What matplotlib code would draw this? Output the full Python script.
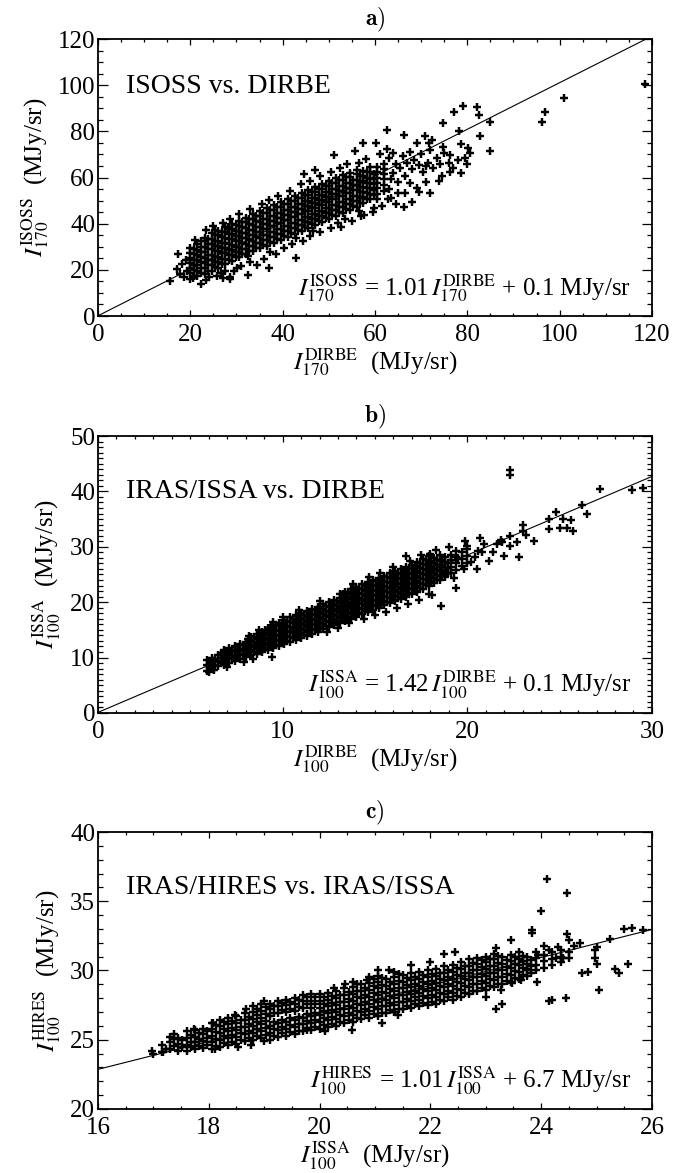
import matplotlib
matplotlib.use('Agg')
import matplotlib.pyplot as plt
from matplotlib.ticker import MultipleLocator

plt.rcParams['font.family'] = 'Liberation Serif'
plt.rcParams['mathtext.fontset'] = 'stix'

# ---- panel a: ISOSS vs DIRBE (170 um) ----
# dense core, read as columns: (x, [y, ...])
a_cols = [
    (19.9, [16.0, 18.5, 20.8, 23.0, 25.2, 27.4, 29.4]),
    (20.7, [17.5, 19.8, 22.1, 24.4, 26.7, 29.0]),
    (21.5, [17.4, 19.7, 22.0, 24.3, 26.5, 28.8, 31.0]),
    (22.3, [18.6, 20.9, 23.2, 25.5, 27.8, 30.1, 32.4]),
    (23.1, [18.2, 20.6, 23.0, 25.3, 27.6, 29.9, 32.3, 34.0]),
    (23.8, [19.7, 22.0, 24.3, 26.6, 28.9, 31.2, 33.5]),
    (24.6, [19.5, 21.9, 24.2, 26.6, 28.9, 31.2, 33.5, 35.8]),
    (25.3, [21.1, 23.4, 25.7, 28.0, 30.3, 32.6, 34.9]),
    (26.1, [21.0, 23.4, 25.7, 28.0, 30.3, 32.6, 34.9, 37.0]),
    (26.8, [22.6, 24.9, 27.2, 29.5, 31.8, 34.1, 36.4]),
    (27.6, [22.5, 24.8, 27.1, 29.4, 31.7, 34.0, 36.3, 38.4]),
    (28.3, [24.1, 26.4, 28.7, 31.0, 33.3, 35.6, 37.9]),
    (29.1, [24.0, 26.3, 28.6, 30.9, 33.2, 35.5, 37.8, 40.0]),
    (29.8, [25.5, 27.8, 30.1, 32.4, 34.7, 37.0, 39.3]),
    (30.6, [25.4, 27.7, 30.0, 32.3, 34.6, 36.9, 39.2, 41.3]),
    (31.3, [26.9, 29.2, 31.5, 33.8, 36.1, 38.4, 40.7]),
    (32.1, [26.8, 29.1, 31.4, 33.7, 36.0, 38.3, 40.6, 42.6]),
    (32.8, [28.2, 30.5, 32.8, 35.1, 37.4, 39.7, 42.0]),
    (33.6, [28.0, 30.4, 32.7, 35.0, 37.3, 39.6, 41.9, 44.0]),
    (34.3, [29.5, 31.8, 34.1, 36.4, 38.7, 41.0, 43.3]),
    (35.1, [29.3, 31.7, 34.0, 36.3, 38.6, 40.9, 43.2, 45.4]),
    (35.8, [30.7, 33.0, 35.3, 37.6, 39.9, 42.2, 44.5]),
    (36.6, [30.5, 33.0, 35.3, 37.6, 39.9, 42.2, 44.5, 46.6]),
    (37.3, [32.0, 34.3, 36.6, 38.9, 41.2, 43.5, 45.8]),
    (38.1, [31.8, 34.3, 36.6, 38.9, 41.2, 43.5, 45.8, 48.0]),
    (38.8, [33.3, 35.6, 37.9, 40.2, 42.5, 44.8, 47.1]),
    (39.6, [33.1, 35.6, 37.9, 40.2, 42.5, 44.8, 47.1, 49.2]),
    (40.3, [34.6, 36.9, 39.2, 41.5, 43.8, 46.1, 48.4]),
    (41.1, [34.4, 36.9, 39.2, 41.5, 43.8, 46.1, 48.4, 50.6]),
    (41.8, [35.9, 38.2, 40.5, 42.8, 45.1, 47.4, 49.7]),
    (42.6, [35.7, 38.2, 40.5, 42.8, 45.1, 47.4, 49.7, 51.8]),
    (43.3, [37.2, 39.5, 41.8, 44.1, 46.4, 48.7, 51.0]),
    (44.1, [37.0, 39.5, 41.8, 44.1, 46.4, 48.7, 51.0, 53.2]),
    (44.8, [38.5, 40.8, 43.1, 45.4, 47.7, 50.0, 52.3]),
    (45.6, [38.3, 40.8, 43.1, 45.4, 47.7, 50.0, 52.3, 54.4]),
    (46.3, [39.8, 42.1, 44.4, 46.7, 49.0, 51.3, 53.6]),
    (47.1, [39.6, 42.1, 44.4, 46.7, 49.0, 51.3, 53.6, 55.8]),
    (47.8, [41.1, 43.4, 45.7, 48.0, 50.3, 52.6, 54.9]),
    (48.6, [40.9, 43.4, 45.7, 48.0, 50.3, 52.6, 54.9, 57.0]),
    (49.3, [42.4, 44.7, 47.0, 49.3, 51.6, 53.9, 56.2]),
    (50.1, [42.2, 44.7, 47.0, 49.3, 51.6, 53.9, 56.2, 58.4]),
    (50.8, [43.7, 46.0, 48.3, 50.6, 52.9, 55.2, 57.5]),
    (51.6, [43.5, 46.0, 48.3, 50.6, 52.9, 55.2, 57.5, 59.6]),
    (52.3, [45.0, 47.3, 49.6, 51.9, 54.2, 56.5, 58.8]),
    (53.1, [44.8, 47.3, 49.6, 51.9, 54.2, 56.5, 58.8, 61.0]),
    (53.8, [46.3, 48.6, 50.9, 53.2, 55.5, 57.8, 60.1]),
    (54.6, [46.1, 48.6, 50.9, 53.2, 55.5, 57.8, 60.1, 62.0]),
    (55.3, [47.6, 49.9, 52.2, 54.5, 56.8, 59.1]),
    (56.1, [47.4, 49.9, 52.2, 54.5, 56.8, 59.1, 61.4, 63.2]),
    (56.8, [49.0, 51.3, 53.6, 55.9, 58.2, 60.5]),
    (57.5, [49.0, 51.5, 53.8, 56.1, 58.4, 60.7, 63.0]),
    (58.3, [50.8, 53.1, 55.4, 57.7, 60.0, 62.3]),
    (59.0, [50.5, 53.0, 55.3, 57.6, 59.9, 62.2, 64.5]),
    (59.8, [52.5, 54.8, 57.1, 59.4, 61.7]),
    (60.5, [52.8, 55.3, 57.6, 59.9, 62.2, 64.5]),
    (62.0, [54.0, 56.8, 59.2, 61.5, 63.8, 66.0]),
]
# scattered points around the core
a_pts = [
    (118.6, 100.6), (101.0, 94.3), (96.9, 88.2), (96.2, 84.1), (84.9, 84.0), (84.9, 71.7),
    (82.8, 78.0), (82.0, 90.5), (82.5, 86.9), (79.1, 90.8), (77.2, 88.6), (74.8, 83.6),
    (78.2, 80.0), (78.7, 74.6), (80.6, 70.6), (80.1, 72.7), (78.7, 61.9), (76.3, 69.8),
    (74.8, 73.4), (72.4, 76.3), (70.8, 77.8), (71.6, 74.9), (66.2, 78.5), (62.6, 80.4),
    (69.0, 74.9), (66.6, 53.2), (68.0, 49.6), (66.3, 47.4), (69.5, 53.9), (71.9, 53.2),
    (73.8, 58.3), (76.3, 62.6), (71.0, 64.8), (57.5, 74.9), (60.2, 74.9), (55.6, 71.3),
    (51.1, 69.7), (63.8, 70.6), (60.4, 50.6), (59.9, 46.7), (62.8, 50.6), (57.7, 43.8),
    (52.7, 38.7), (42.9, 25.0), (32.5, 17.8), (37.0, 20.7), (28.7, 17.0), (28.7, 15.9),
    (22.4, 13.9), (15.7, 15.2), (17.4, 26.9), (25.3, 37.3), (28.2, 38.7), (20.5, 16.3),
    (17.2, 20.5), (17.8, 18.2), (18.3, 22.4), (18.6, 16.8), (19.0, 24.1), (19.3, 19.6),
    (23.5, 15.5), (25.8, 17.2), (27.0, 16.4), (29.5, 19.3), (31.0, 21.8), (33.0, 23.5),
    (34.5, 22.2), (36.0, 24.6), (38.6, 27.0), (40.2, 29.5), (42.0, 31.0), (44.5, 32.5),
    (46.0, 34.8), (48.0, 36.2), (50.5, 38.0), (52.0, 40.5), (55.0, 41.0), (57.0, 43.5),
    (59.5, 45.2), (61.5, 47.8), (63.5, 51.0), (64.5, 48.5), (65.0, 53.5), (63.0, 55.0),
    (27.6, 19.6), (30.2, 21.0), (24.0, 17.0), (26.6, 18.8), (32.5, 26.0), (37.2, 27.8),
    (42.8, 33.8), (46.6, 37.0), (53.6, 42.0), (56.5, 45.5),
    (21.0, 33.0), (23.5, 37.4), (25.0, 38.9), (27.0, 40.5), (28.5, 42.2), (30.5, 44.0),
    (33.0, 46.5), (35.5, 48.5), (37.0, 50.2), (39.0, 52.0), (41.5, 54.0), (44.0, 57.0),
    (46.0, 58.5), (48.0, 60.5), (50.5, 62.5), (52.5, 64.0), (54.0, 66.0), (56.5, 66.5),
    (58.0, 68.0), (44.7, 61.5), (47.0, 63.2),
    (63.0, 68.5), (64.0, 62.0), (64.5, 66.0), (65.5, 64.0), (66.0, 69.5), (66.5, 60.5),
    (67.0, 66.5), (67.5, 71.0), (68.0, 63.5), (68.5, 67.8), (69.5, 65.5), (70.0, 70.0),
    (70.5, 62.5), (71.5, 66.5), (72.0, 72.0), (72.5, 64.0), (73.5, 68.5), (74.0, 66.0),
    (75.0, 70.5), (76.0, 66.5), (77.0, 64.0), (78.0, 67.5), (79.5, 68.5), (80.0, 66.0),
    (65.0, 58.0), (63.5, 59.5), (67.5, 57.5), (69.0, 55.5), (71.0, 58.0), (74.5, 60.5),
    (61.0, 70.0), (62.5, 72.5),
]
a_fit = (1.01, 0.1)

# ---- panel b: IRAS/ISSA vs DIRBE (100 um) ----
b_cols = [
    (5.9, [7.6, 8.6, 9.6]),
    (6.05, [8.3, 9.3]),
    (6.2, [8.0, 9.0, 10.0]),
    (6.35, [8.7, 9.7]),
    (6.5, [8.4, 9.4, 10.4]),
    (6.65, [9.05, 10.0, 10.9]),
    (6.8, [8.7, 9.6, 10.5, 11.3]),
    (6.95, [9.35, 10.25, 11.15]),
    (7.1, [9.0, 9.9, 10.8, 11.7]),
    (7.25, [9.65, 10.55, 11.45]),
    (7.4, [9.4, 10.3, 11.2, 12.1]),
    (7.55, [10.05, 10.95, 11.85]),
    (7.7, [9.8, 10.7, 11.6, 12.5]),
    (7.85, [10.45, 11.35, 12.25]),
    (8.0, [10.1, 11.0, 11.9, 12.8]),
    (8.15, [10.75, 11.65, 12.55, 13.3]),
    (8.3, [10.4, 11.3, 12.2, 13.1, 13.8]),
    (8.45, [11.05, 11.95, 12.85, 13.75]),
    (8.6, [10.7, 11.6, 12.5, 13.4, 14.3]),
    (8.75, [11.35, 12.25, 13.15, 14.05]),
    (8.9, [11.0, 11.9, 12.8, 13.7, 14.6]),
    (9.05, [11.65, 12.55, 13.45, 14.35, 15.0]),
    (9.2, [11.4, 12.3, 13.2, 14.1, 15.0, 15.4]),
    (9.35, [12.05, 12.95, 13.85, 14.75, 15.6]),
    (9.5, [11.7, 12.6, 13.5, 14.4, 15.3, 15.9]),
    (9.65, [12.35, 13.25, 14.15, 15.05, 15.9]),
    (9.8, [12.1, 13.0, 13.9, 14.8, 15.7, 16.3]),
    (9.95, [12.75, 13.65, 14.55, 15.45, 16.3]),
    (10.1, [12.4, 13.3, 14.2, 15.1, 16.0, 16.8]),
    (10.25, [13.05, 13.95, 14.85, 15.75, 16.65]),
    (10.4, [12.8, 13.7, 14.6, 15.5, 16.4, 17.3]),
    (10.55, [13.45, 14.35, 15.25, 16.15, 17.05]),
    (10.7, [13.2, 14.1, 15.0, 15.9, 16.8, 17.7]),
    (10.85, [13.85, 14.75, 15.65, 16.55, 17.45]),
    (11.0, [13.5, 14.4, 15.3, 16.2, 17.1, 18.0]),
    (11.15, [14.15, 15.05, 15.95, 16.85, 17.75]),
    (11.3, [13.9, 14.8, 15.7, 16.6, 17.5, 18.4]),
    (11.45, [14.55, 15.45, 16.35, 17.25, 18.15]),
    (11.6, [14.3, 15.2, 16.1, 17.0, 17.9, 18.8]),
    (11.75, [14.95, 15.85, 16.75, 17.65, 18.55]),
    (11.9, [14.7, 15.6, 16.5, 17.4, 18.3, 19.2]),
    (12.05, [15.35, 16.25, 17.15, 18.05, 18.95]),
    (12.2, [15.1, 16.0, 16.9, 17.8, 18.7, 19.6]),
    (12.35, [15.75, 16.65, 17.55, 18.45, 19.35]),
    (12.5, [15.5, 16.4, 17.3, 18.2, 19.1, 20.0]),
    (12.65, [16.15, 17.05, 17.95, 18.85, 19.75]),
    (12.8, [15.9, 16.8, 17.7, 18.6, 19.5, 20.4]),
    (12.95, [16.55, 17.45, 18.35, 19.25, 20.15]),
    (13.1, [16.3, 17.2, 18.1, 19.0, 19.9, 20.8, 21.5]),
    (13.25, [16.95, 17.85, 18.75, 19.65, 20.55, 21.45]),
    (13.4, [16.6, 17.5, 18.4, 19.3, 20.2, 21.1, 21.9]),
    (13.55, [17.25, 18.15, 19.05, 19.95, 20.85, 21.75]),
    (13.7, [17.0, 17.9, 18.8, 19.7, 20.6, 21.5, 22.4]),
    (13.85, [17.65, 18.55, 19.45, 20.35, 21.25, 22.15]),
    (14.0, [17.4, 18.3, 19.2, 20.1, 21.0, 21.9, 22.8]),
    (14.15, [18.05, 18.95, 19.85, 20.75, 21.65, 22.55]),
    (14.3, [17.8, 18.7, 19.6, 20.5, 21.4, 22.3, 23.2]),
    (14.45, [18.45, 19.35, 20.25, 21.15, 22.05, 22.95]),
    (14.6, [18.2, 19.1, 20.0, 20.9, 21.8, 22.7, 23.6]),
    (14.75, [18.85, 19.75, 20.65, 21.55, 22.45, 23.35]),
    (14.9, [18.6, 19.5, 20.4, 21.3, 22.2, 23.1, 24.0]),
    (15.05, [19.25, 20.15, 21.05, 21.95, 22.85, 23.75]),
    (15.2, [19.0, 19.9, 20.8, 21.7, 22.6, 23.5, 24.4]),
    (15.35, [19.65, 20.55, 21.45, 22.35, 23.25, 24.15]),
    (15.5, [19.4, 20.3, 21.2, 22.1, 23.0, 23.9, 24.8]),
    (15.65, [20.05, 20.95, 21.85, 22.75, 23.65, 24.55]),
    (15.8, [19.8, 20.7, 21.6, 22.5, 23.4, 24.3, 25.2]),
    (15.95, [20.45, 21.35, 22.25, 23.15, 24.05, 24.95]),
    (16.1, [20.2, 21.1, 22.0, 22.9, 23.8, 24.7, 25.6]),
    (16.25, [20.85, 21.75, 22.65, 23.55, 24.45, 25.35]),
    (16.4, [20.6, 21.5, 22.4, 23.3, 24.2, 25.1, 26.0]),
    (16.55, [21.25, 22.15, 23.05, 23.95, 24.85, 25.75]),
    (16.7, [21.0, 21.9, 22.8, 23.7, 24.6, 25.5, 26.4]),
    (16.85, [21.65, 22.55, 23.45, 24.35, 25.25, 26.15]),
    (17.0, [21.4, 22.3, 23.2, 24.1, 25.0, 25.9, 26.8]),
    (17.15, [22.05, 22.95, 23.85, 24.75, 25.65, 26.55]),
    (17.3, [21.9, 22.8, 23.7, 24.6, 25.5, 26.4, 27.3]),
    (17.45, [22.55, 23.45, 24.35, 25.25, 26.15, 27.05]),
    (17.6, [22.4, 23.3, 24.2, 25.1, 26.0, 26.9, 27.8]),
    (17.75, [23.05, 23.95, 24.85, 25.75, 26.65, 27.55]),
    (17.9, [22.9, 23.8, 24.7, 25.6, 26.5, 27.4, 28.3]),
    (18.05, [23.55, 24.45, 25.35, 26.25, 27.15]),
    (18.2, [23.4, 24.3, 25.2, 26.1, 27.0, 27.9]),
    (18.35, [24.05, 24.95, 25.85, 26.75, 27.65]),
    (18.5, [24.0, 24.9, 25.8, 26.7, 27.6, 28.5]),
    (18.65, [24.65, 25.55, 26.45, 27.35]),
    (18.8, [24.6, 25.5, 26.4, 27.3, 28.2]),
    (18.95, [25.25, 26.15, 27.05]),
    (19.1, [25.2, 26.4, 27.6, 28.6]),
    (19.4, [25.8, 27.0, 28.2, 29.2]),
    (19.7, [26.5, 27.8, 29.0]),
    (20.0, [27.0, 28.4, 29.6]),
]
b_pts = [
    (6.0, 7.4), (6.3, 7.7), (7.1, 11.2), (7.6, 11.3), (7.0, 8.3), (7.9, 9.2), (8.4, 9.8),
    (9.4, 10.1), (9.5, 16.4), (8.2, 13.9), (8.7, 14.9), (10.0, 17.4), (10.9, 18.6),
    (12.0, 20.3), (12.4, 14.6), (13.0, 15.4), (13.6, 16.2), (14.4, 16.9), (15.0, 17.6),
    (15.6, 18.3), (16.2, 19.0), (16.8, 19.7), (17.4, 20.4), (17.9, 21.5), (18.1, 21.3),
    (18.6, 19.3), (19.4, 22.6), (13.8, 23.3), (14.7, 24.5), (15.3, 25.3), (16.0, 26.4),
    (16.7, 28.4), (16.9, 27.5), (18.0, 28.7), (19.0, 29.9), (19.9, 31.1), (20.0, 30.2),
    (20.9, 30.5), (21.6, 30.5), (22.0, 28.4), (20.5, 26.0), (21.2, 27.5), (20.4, 28.1),
    (20.6, 29.2), (21.4, 29.0), (21.9, 30.9), (22.3, 30.2), (22.7, 30.9), (22.8, 28.2),
    (23.0, 32.9), (23.0, 34.0), (23.2, 32.2), (22.3, 32.0), (23.6, 31.0), (24.4, 33.3),
    (25.0, 33.4), (25.4, 33.4), (25.7, 32.8), (24.4, 35.1), (24.8, 36.2), (25.2, 35.0),
    (25.6, 34.8), (26.2, 37.5), (26.5, 35.9), (27.2, 40.5), (28.9, 40.3), (29.5, 40.7),
    (22.3, 43.8), (22.3, 42.9), (19.5, 28.0), (20.2, 27.2), (19.8, 26.0), (18.9, 25.2),
    (19.3, 24.4), (20.8, 29.0), (21.8, 31.2), (18.3, 29.5), (17.5, 28.6), (20.7, 31.6),
]
b_fit = (1.42, 0.1)

# ---- panel c: IRAS/HIRES vs IRAS/ISSA (100 um) ----
c_cols = [
    (17.00, [24.0]),
    (17.15, [24.1, 24.6]),
    (17.225, [24.35]),
    (17.30, [24.3, 24.8, 25.2]),
    (17.375, [24.55, 25.05]),
    (17.45, [24.2, 24.7, 25.1]),
    (17.525, [24.45, 24.95]),
    (17.60, [24.2, 24.6, 25.1, 25.6]),
    (17.675, [24.45, 24.85, 25.35]),
    (17.75, [24.3, 24.8, 25.2, 25.7]),
    (17.825, [24.55, 25.05, 25.45]),
    (17.90, [24.4, 24.9, 25.4, 25.8]),
    (17.975, [24.65, 25.15, 25.65]),
    (18.05, [24.3, 24.8, 25.3, 25.8, 26.2]),
    (18.125, [24.55, 25.05, 25.55, 26.05]),
    (18.20, [24.5, 25.0, 25.5, 26.0, 26.4]),
    (18.275, [24.75, 25.25, 25.75, 26.25]),
    (18.35, [24.6, 25.1, 25.6, 26.1, 26.6]),
    (18.425, [24.85, 25.35, 25.85, 26.35]),
    (18.50, [24.7, 25.2, 25.7, 26.2, 26.7]),
    (18.575, [24.95, 25.45, 25.95, 26.45]),
    (18.65, [24.9, 25.4, 25.9, 26.4, 26.9]),
    (18.725, [25.15, 25.65, 26.15, 26.65]),
    (18.80, [25.0, 25.5, 26.0, 26.5, 27.0, 27.4]),
    (18.875, [25.25, 25.75, 26.25, 26.75, 27.25]),
    (18.95, [25.1, 25.6, 26.1, 26.6, 27.1, 27.6]),
    (19.025, [25.35, 25.85, 26.35, 26.85, 27.35]),
    (19.10, [25.0, 25.5, 26.0, 26.7, 27.2, 27.6]),
    (19.175, [25.25, 25.75, 26.25, 26.95, 27.45]),
    (19.25, [25.2, 25.7, 26.2, 26.9, 27.4, 27.8]),
    (19.325, [25.45, 25.95, 26.45, 27.15, 27.65]),
    (19.40, [25.3, 25.8, 26.3, 27.0, 27.5, 27.9]),
    (19.475, [25.55, 26.05, 26.55, 27.25, 27.75]),
    (19.55, [25.4, 25.9, 26.4, 27.1, 27.6, 28.0]),
    (19.625, [25.65, 26.15, 26.65, 27.35, 27.85]),
    (19.70, [25.6, 26.1, 26.6, 27.3, 27.8, 28.2]),
    (19.775, [25.85, 26.35, 26.85, 27.55, 28.05]),
    (19.85, [25.7, 26.2, 26.7, 27.3, 27.8, 28.3]),
    (19.925, [25.95, 26.45, 26.95, 27.55, 28.05]),
    (20.00, [25.8, 26.3, 26.8, 27.3, 27.8, 28.3]),
    (20.075, [26.05, 26.55, 27.05, 27.55, 28.05]),
    (20.15, [25.9, 26.4, 26.9, 27.4, 27.9, 28.4]),
    (20.225, [26.15, 26.65, 27.15, 27.65, 28.15]),
    (20.30, [26.0, 26.5, 27.0, 27.5, 28.0, 28.5]),
    (20.375, [26.25, 26.75, 27.25, 27.75, 28.25]),
    (20.45, [26.2, 26.7, 27.2, 27.7, 28.2, 28.7]),
    (20.525, [26.45, 26.95, 27.45, 27.95, 28.45]),
    (20.60, [26.3, 26.8, 27.3, 27.8, 28.3, 28.8, 29.2]),
    (20.675, [26.55, 27.05, 27.55, 28.05, 28.55, 29.05]),
    (20.75, [26.5, 27.0, 27.5, 28.0, 28.5, 29.0]),
    (20.825, [26.75, 27.25, 27.75, 28.25, 28.75]),
    (20.90, [26.6, 27.1, 27.6, 28.1, 28.6, 29.1, 29.5]),
    (20.975, [26.85, 27.35, 27.85, 28.35, 28.85, 29.35]),
    (21.05, [26.7, 27.2, 27.7, 28.2, 28.7, 29.2, 29.6]),
    (21.125, [26.95, 27.45, 27.95, 28.45, 28.95, 29.45]),
    (21.20, [26.9, 27.4, 27.9, 28.4, 28.9, 29.4]),
    (21.275, [27.15, 27.65, 28.15, 28.65, 29.15]),
    (21.35, [27.0, 27.5, 28.0, 28.5, 29.0, 29.5, 29.9]),
    (21.425, [27.25, 27.75, 28.25, 28.75, 29.25, 29.75]),
    (21.50, [27.2, 27.7, 28.2, 28.7, 29.2, 29.7]),
    (21.575, [27.45, 27.95, 28.45, 28.95, 29.45]),
    (21.65, [27.3, 27.8, 28.3, 28.8, 29.3, 29.8]),
    (21.725, [27.55, 28.05, 28.55, 29.05, 29.55]),
    (21.80, [27.4, 27.9, 28.4, 28.9, 29.4, 29.9]),
    (21.875, [27.65, 28.15, 28.65, 29.15, 29.65]),
    (21.95, [27.5, 28.0, 28.5, 29.0, 29.5, 30.0]),
    (22.025, [27.75, 28.25, 28.75, 29.25, 29.75]),
    (22.10, [27.6, 28.1, 28.6, 29.1, 29.6, 30.1]),
    (22.175, [27.85, 28.35, 28.85, 29.35, 29.85]),
    (22.25, [27.8, 28.3, 28.8, 29.3, 29.8, 30.3]),
    (22.325, [28.05, 28.55, 29.05, 29.55, 30.05]),
    (22.40, [27.9, 28.4, 28.9, 29.4, 29.9, 30.4]),
    (22.475, [28.15, 28.65, 29.15, 29.65, 30.15]),
    (22.55, [28.1, 28.6, 29.1, 29.6, 30.1, 30.6]),
    (22.625, [28.35, 28.85, 29.35, 29.85, 30.35]),
    (22.70, [28.3, 28.8, 29.3, 29.8, 30.3, 30.8]),
    (22.775, [28.55, 29.05, 29.55, 30.05, 30.55]),
    (22.85, [28.5, 29.0, 29.5, 30.0, 30.5, 30.9]),
    (22.925, [28.75, 29.25, 29.75, 30.25, 30.75]),
    (23.00, [28.6, 29.1, 29.6, 30.1, 30.6, 31.0]),
    (23.075, [28.85, 29.35, 29.85, 30.35, 30.85]),
    (23.15, [28.8, 29.3, 29.8, 30.3, 30.8, 31.2]),
    (23.225, [29.05, 29.55, 30.05, 30.55, 31.05]),
    (23.30, [29.0, 29.5, 30.0, 30.5, 31.0]),
    (23.375, [29.25, 29.75, 30.25, 30.75]),
    (23.45, [29.2, 29.7, 30.2, 30.7, 31.1]),
    (23.525, [29.45, 29.95, 30.45, 30.95]),
    (23.60, [29.4, 29.9, 30.4, 30.8, 31.3]),
    (23.675, [29.65, 30.15, 30.65, 31.05]),
    (23.75, [29.6, 30.1, 30.5, 31.0]),
    (23.825, [29.85, 30.35, 30.75]),
    (23.90, [30.0, 30.4, 30.9, 31.3]),
    (24.05, [30.2, 30.7, 31.1]),
    (24.20, [30.4, 30.8, 31.3]),
    (24.35, [30.6, 31.0, 31.5]),
    (24.50, [30.9, 31.3]),
]
c_pts = [
    (24.10, 36.6), (24.46, 35.6), (24.00, 34.3), (23.84, 32.9), (23.84, 32.7), (25.64, 33.1),
    (25.49, 33.0), (25.84, 32.9), (25.25, 32.3), (25.00, 31.7), (24.97, 31.5), (24.97, 30.9),
    (25.00, 30.5), (24.73, 29.8), (24.85, 29.9), (25.33, 30.1), (25.40, 29.8), (25.56, 30.5),
    (25.05, 28.6), (24.44, 28.0), (24.14, 27.8), (24.20, 27.9), (23.19, 27.2), (23.29, 27.6),
    (23.00, 28.1), (23.92, 29.2), (23.45, 32.2), (23.19, 31.6), (22.44, 31.3), (22.00, 30.6),
    (21.65, 30.4), (21.25, 30.0), (24.46, 32.6), (24.50, 32.2), (24.60, 31.8), (24.70, 32.0),
    (24.06, 31.8), (24.14, 31.5), (24.26, 30.9), (24.40, 30.9), (24.30, 31.7), (23.94, 31.1),
    (23.74, 30.0), (23.63, 29.3), (23.47, 29.1), (23.27, 28.6), (22.40, 29.4), (21.41, 26.8),
    (21.37, 27.0), (21.13, 26.2), (20.58, 25.7), (20.10, 25.6), (19.78, 25.7), (18.99, 24.9),
    (18.76, 24.6), (18.53, 24.5), (18.12, 24.3), (18.99, 27.8), (18.48, 26.8), (18.68, 27.2),
    (18.08, 26.2), (17.73, 25.8), (17.37, 25.4), (16.97, 24.2), (17.17, 24.1), (22.24, 31.2),
    (21.05, 30.0), (20.85, 29.3), (20.46, 29.0), (20.26, 28.7),
]
c_fit = (1.01, 6.7)

panels = [
    dict(cols=a_cols, pts=a_pts, fit=a_fit, tag=r'$\mathbf{a)}$', xlim=(0, 120), ylim=(0, 120),
         xmaj=20, xmin=5, ymaj=20, ymin=5, ly=0.83,
         name='ISOSS vs. DIRBE',
         eq=r'$I_{170}^{\rm ISOSS}$ = 1.01$\,I_{170}^{\rm DIRBE}$ + 0.1 MJy/sr',
         xlab=r'$I_{170}^{\rm DIRBE}$  (MJy/sr)', ylab=r'$I_{170}^{\rm ISOSS}$  (MJy/sr)'),
    dict(cols=b_cols, pts=b_pts, fit=b_fit, tag=r'$\mathbf{b)}$', xlim=(0, 30), ylim=(0, 50),
         xmaj=10, xmin=1, ymaj=10, ymin=1, ly=0.80,
         name='IRAS/ISSA vs. DIRBE',
         eq=r'$I_{100}^{\rm ISSA}$ = 1.42$\,I_{100}^{\rm DIRBE}$ + 0.1 MJy/sr',
         xlab=r'$I_{100}^{\rm DIRBE}$  (MJy/sr)', ylab=r'$I_{100}^{\rm ISSA}$  (MJy/sr)'),
    dict(cols=c_cols, pts=c_pts, fit=c_fit, tag=r'$\mathbf{c)}$', xlim=(16, 26), ylim=(20, 40),
         xmaj=2, xmin=0.5, ymaj=5, ymin=1, ly=0.80,
         name='IRAS/HIRES vs. IRAS/ISSA',
         eq=r'$I_{100}^{\rm HIRES}$ = 1.01$\,I_{100}^{\rm ISSA}$ + 6.7 MJy/sr',
         xlab=r'$I_{100}^{\rm ISSA}$  (MJy/sr)', ylab=r'$I_{100}^{\rm HIRES}$  (MJy/sr)'),
]

fig = plt.figure(figsize=(6.88, 11.73), dpi=100)
bottoms = [0.7306, 0.3922, 0.0546]

for p, b in zip(panels, bottoms):
    ax = fig.add_axes([0.1424, b, 0.8052, 0.2361])
    xs = [x for x, ys in p['cols'] for _ in ys] + [q[0] for q in p['pts']]
    ys = [y for _, yy in p['cols'] for y in yy] + [q[1] for q in p['pts']]
    ax.plot(xs, ys, '+', color='k', ms=6.4, mew=1.75)

    m, c0 = p['fit']
    x0, x1 = p['xlim']
    ax.plot([x0, x1], [m * x0 + c0, m * x1 + c0], 'k-', lw=0.8)

    ax.set_xlim(*p['xlim'])
    ax.set_ylim(*p['ylim'])
    ax.xaxis.set_major_locator(MultipleLocator(p['xmaj']))
    ax.xaxis.set_minor_locator(MultipleLocator(p['xmin']))
    ax.yaxis.set_major_locator(MultipleLocator(p['ymaj']))
    ax.yaxis.set_minor_locator(MultipleLocator(p['ymin']))
    ax.tick_params(which='both', direction='in', top=True, right=True, width=0.9,
                   labelsize=18)
    ax.tick_params(axis='x', which='major', length=4.0, pad=6)
    ax.tick_params(axis='x', which='minor', length=2.0)
    ax.tick_params(axis='y', which='major', length=7.2, pad=2)
    ax.tick_params(axis='y', which='minor', length=3.6)
    for s in ax.spines.values():
        s.set_linewidth(1.3)

    ticks = ax.yaxis.get_major_ticks()
    ticks[0].label1.set_va('bottom')
    ticks[-1].label1.set_va('top')

    ax.text(0.05, p['ly'], p['name'], transform=ax.transAxes, fontsize=20, va='center')
    ax.text(0.962, 0.10, p['eq'], transform=ax.transAxes, fontsize=18,
            ha='right', va='center')
    ax.set_xlabel(p['xlab'], fontsize=18, labelpad=0)
    ax.set_ylabel(p['ylab'], fontsize=18, labelpad=5)
    ax.set_title(p['tag'], fontsize=17, pad=10, math_fontfamily='cm')

fig.savefig('out.png', dpi=100)
